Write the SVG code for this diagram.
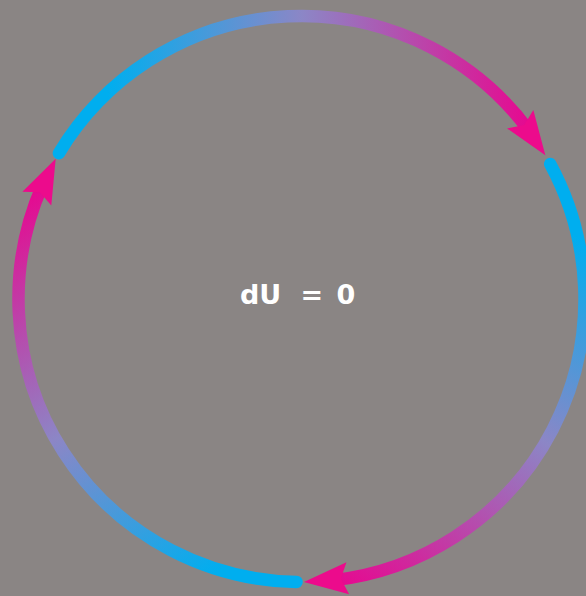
<svg xmlns="http://www.w3.org/2000/svg" width="586" height="596" viewBox="0 0 586 596">
  <style>
    .arc { fill: none; stroke-width: 12.5; stroke-linecap: round; }
    .head { fill: #ec0b8c; }
    .label { font-family: "DejaVu Sans", "Liberation Sans", sans-serif; font-weight: bold; font-size: 27px; fill: #ffffff; }
  </style>
  <defs>
    <path id="arrowhead" d="M0,0 L-44,-16 L-37,0 L-44,16 Z"/>
    <linearGradient id="g1" gradientUnits="userSpaceOnUse" x1="58.9" y1="153.2" x2="545.3" y2="155.4">
      <stop offset="0" stop-color="#00aeef"/>
      <stop offset="0.1" stop-color="#00aeef"/>
      <stop offset="0.5" stop-color="#8c86c6"/>
      <stop offset="1" stop-color="#ec008c"/>
    </linearGradient>
    <linearGradient id="g2" gradientUnits="userSpaceOnUse" x1="550.2" y1="164" x2="304" y2="582">
      <stop offset="0" stop-color="#00aeef"/>
      <stop offset="0.1" stop-color="#00aeef"/>
      <stop offset="0.5" stop-color="#8c86c6"/>
      <stop offset="1" stop-color="#ec008c"/>
    </linearGradient>
    <linearGradient id="g3" gradientUnits="userSpaceOnUse" x1="296.6" y1="582" x2="55.7" y2="158.8">
      <stop offset="0" stop-color="#00aeef"/>
      <stop offset="0.1" stop-color="#00aeef"/>
      <stop offset="0.5" stop-color="#8c86c6"/>
      <stop offset="1" stop-color="#ec008c"/>
    </linearGradient>
  </defs>
  <rect x="0" y="0" width="586" height="596" fill="#8a8584"/>
  <g id="connectors">
    <g id="arc1">
      <path class="arc" stroke="url(#g1)" d="M58.92,153.24 A283,283 0 0 1 528.81,130.41"/>
      <use href="#arrowhead" class="head" transform="translate(545.34,155.37) rotate(55.15)"/>
    </g>
    <g id="arc2">
      <path class="arc" stroke="url(#g2)" d="M550.21,163.96 A283,283 0 0 1 333.88,580.14"/>
      <use href="#arrowhead" class="head" transform="translate(303.97,581.99) rotate(175.15)"/>
    </g>
    <g id="arc3">
      <path class="arc" stroke="url(#g3)" d="M296.56,581.96 A283,283 0 0 1 42.23,185.56"/>
      <use href="#arrowhead" class="head" transform="translate(55.68,158.78) rotate(295.35)"/>
    </g>
  </g>
  <g id="label">
    <text class="label" y="304"><tspan x="240">dU </tspan><tspan x="300.5">= </tspan><tspan x="336.5">0</tspan></text>
  </g>
</svg>
